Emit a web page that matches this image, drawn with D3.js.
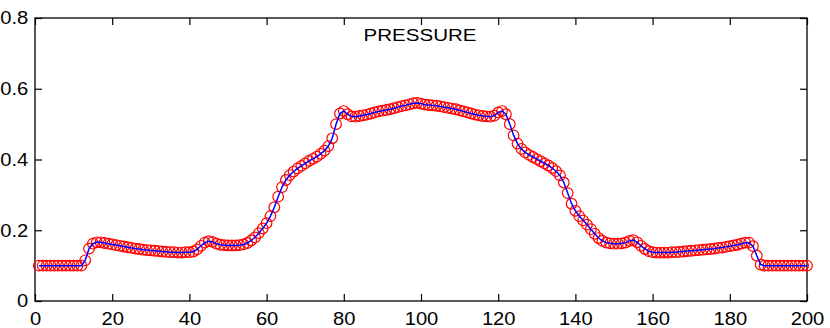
<!DOCTYPE html>
<html>
<head>
<meta charset="utf-8">
<script src="https://cdn.jsdelivr.net/npm/d3@7"></script>
<style>
  body { margin: 0; background: #fff; }
  svg text { font-family: "Liberation Sans", Arial, sans-serif; fill: #000; }
</style>
</head>
<body>
<svg id="chart" width="830" height="328"></svg>
<script>
// chart values
let title = "PRESSURE";
let xTicks = [0, 20, 40, 60, 80, 100, 120, 140, 160, 180, 200];
let yTicks = [0, 0.2, 0.4, 0.6, 0.8];
let yTickLabels = ["0", "0.2", "0.4", "0.6", "0.8"];

// pressure at cells 1..200
let pressure = [
    0.100, 0.100, 0.100, 0.100, 0.100, 0.100, 0.100, 0.100, 0.100, 0.100,
    0.100, 0.100, 0.115, 0.148, 0.162, 0.166, 0.166, 0.164, 0.162, 0.160,
    0.158, 0.156, 0.154, 0.152, 0.150, 0.148, 0.147, 0.145, 0.144, 0.143,
    0.142, 0.141, 0.140, 0.139, 0.138, 0.138, 0.137, 0.137, 0.138, 0.138,
    0.140, 0.146, 0.156, 0.165, 0.169, 0.167, 0.162, 0.159, 0.158, 0.157,
    0.157, 0.157, 0.158, 0.160, 0.164, 0.171, 0.180, 0.192, 0.205, 0.220,
    0.240, 0.265, 0.295, 0.322, 0.342, 0.356, 0.366, 0.375, 0.382, 0.389,
    0.396, 0.402, 0.408, 0.416, 0.425, 0.438, 0.460, 0.500, 0.530, 0.537,
    0.528, 0.522, 0.521, 0.523, 0.525, 0.527, 0.530, 0.533, 0.536, 0.538,
    0.540, 0.542, 0.545, 0.548, 0.551, 0.553, 0.556, 0.559, 0.560, 0.558,
    0.555, 0.554, 0.553, 0.552, 0.550, 0.548, 0.546, 0.544, 0.542, 0.539,
    0.536, 0.533, 0.530, 0.527, 0.525, 0.523, 0.522, 0.521, 0.524, 0.533,
    0.537, 0.528, 0.500, 0.468, 0.445, 0.430, 0.420, 0.413, 0.407, 0.401,
    0.395, 0.389, 0.383, 0.376, 0.367, 0.355, 0.335, 0.305, 0.275, 0.255,
    0.240, 0.228, 0.216, 0.203, 0.190, 0.178, 0.170, 0.165, 0.163, 0.162,
    0.162, 0.163, 0.165, 0.170, 0.172, 0.166, 0.156, 0.147, 0.141, 0.138,
    0.137, 0.137, 0.137, 0.137, 0.138, 0.138, 0.139, 0.140, 0.141, 0.142,
    0.143, 0.144, 0.145, 0.146, 0.147, 0.148, 0.150, 0.151, 0.153, 0.155,
    0.157, 0.159, 0.162, 0.165, 0.165, 0.155, 0.128, 0.103, 0.100, 0.100,
    0.100, 0.100, 0.100, 0.100, 0.100, 0.100, 0.100, 0.100, 0.100, 0.100
];

let margin = {left: 35, top: 18, right: 23, bottom: 27};
let width = 830 - margin.left - margin.right;
let height = 328 - margin.top - margin.bottom;
let textStretch = 1.12;   // the reference's lettering is a little wide

let data = pressure.map((p, i) => ({x: i + 1, p: p}));

let x = d3.scaleLinear().domain([0, 200]).range([0, width]);
let y = d3.scaleLinear().domain([0, 0.8]).range([height, 0]);

let svg = d3.select("#chart");
let g = svg.append("g")
    .attr("transform", "translate(" + margin.left + "," + margin.top + ")");

// axes, ticks pointing inward on all four sides
g.append("g")
    .attr("transform", "translate(0," + height + ")")
    .call(d3.axisBottom(x).tickValues(xTicks).tickFormat(d3.format("d"))
        .tickSizeInner(-7).tickSizeOuter(0).tickPadding(11));
g.append("g")
    .call(d3.axisLeft(y).tickValues(yTicks).tickFormat((d, i) => yTickLabels[i])
        .tickSizeInner(-7).tickSizeOuter(0).tickPadding(6));
g.append("g")
    .call(d3.axisTop(x).tickValues(xTicks).tickFormat("")
        .tickSizeInner(-7).tickSizeOuter(0));
g.append("g")
    .attr("transform", "translate(" + width + ",0)")
    .call(d3.axisRight(y).tickValues(yTicks).tickFormat("")
        .tickSizeInner(-7).tickSizeOuter(0));

g.selectAll(".domain").remove();
g.selectAll(".tick line").style("stroke", "#000").style("stroke-width", 1.2);
g.selectAll(".tick text")
    .style("font-size", "18px")
    .attr("font-family", null)
    .attr("transform", "scale(" + textStretch + ",1)");

// box
g.append("rect")
    .attr("x", 0)
    .attr("y", 0)
    .attr("width", width)
    .attr("height", height)
    .style("fill", "none")
    .style("stroke", "#000")
    .style("stroke-width", 1.3);

// red circles
g.selectAll(".pt").data(data).join("circle")
    .attr("class", "pt")
    .attr("cx", d => x(d.x))
    .attr("cy", d => y(d.p))
    .attr("r", 5.3)
    .style("fill", "none")
    .style("stroke", "#ff0000")
    .style("stroke-width", 1.2);

// blue line
let line = d3.line().x(d => x(d.x)).y(d => y(d.p));
g.append("path")
    .datum(data)
    .attr("d", line)
    .style("fill", "none")
    .style("stroke", "#0000ff")
    .style("stroke-width", 1.5);

// title
g.append("text")
    .attr("x", 0)
    .attr("y", 0)
    .attr("transform", "translate(" + (420 - margin.left) + "," + (41 - margin.top) + ")")
    .attr("text-anchor", "middle")
    .attr("textLength", 113)
    .attr("lengthAdjust", "spacingAndGlyphs")
    .style("font-size", "16px")
    .text(title);
</script>
</body>
</html>
